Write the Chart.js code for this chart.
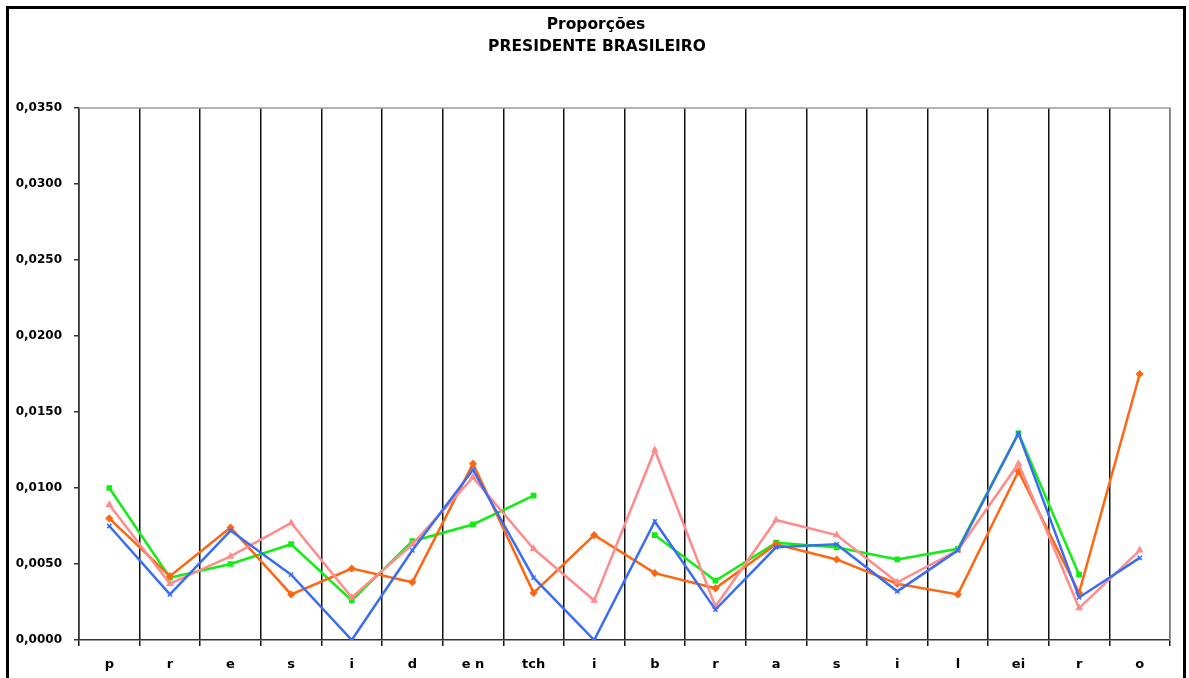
<!DOCTYPE html>
<html>
<head>
<meta charset="utf-8">
<script src="https://cdn.jsdelivr.net/npm/chart.js@4.4.1/dist/chart.umd.min.js"></script>
<style>
html,body{margin:0;padding:0;background:#fff;overflow:hidden;}
canvas{display:block;}
</style>
</head>
<body>
<canvas id="c" width="1189" height="678"></canvas>
<script>
const titleLines = ['Proporções', 'PRESIDENTE BRASILEIRO'];
const categories = ['p','r','e','s','i','d','e n','tch','i','b','r','a','s','i','l','ei','r','o'];
const yTicks = [0, 0.005, 0.01, 0.015, 0.02, 0.025, 0.03, 0.035];
const seriesGreen  = [0.0100,0.0041,0.0050,0.0063,0.0026,0.0065,0.0076,0.0095,null,0.0069,0.0039,0.0064,0.0061,0.0053,0.0060,0.0136,0.0043,null];
const seriesOrange = [0.0080,0.0042,0.0074,0.0030,0.0047,0.0038,0.0116,0.0031,0.0069,0.0044,0.0034,0.0063,0.0053,0.0037,0.0030,0.0111,0.0031,0.0175];
const seriesPink   = [0.0089,0.0037,0.0055,0.0077,0.0028,0.0063,0.0107,0.0060,0.0026,0.0125,0.0022,0.0079,0.0069,0.0038,0.0059,0.0116,0.0021,0.0059];
const seriesBlue   = [0.0075,0.0030,0.0072,0.0043,0.0000,0.0059,0.0112,0.0041,0.0000,0.0078,0.0020,0.0061,0.0063,0.0032,0.0059,0.0136,0.0028,0.0054];

const FONT = "'DejaVu Sans', sans-serif";

const framePlugin = {
  id: 'frame',
  beforeDraw(chart) {
    const ctx = chart.ctx;
    ctx.save();
    ctx.fillStyle = '#fff';
    ctx.fillRect(0, 0, chart.width, chart.height);
    ctx.restore();
  },
  beforeDatasetsDraw(chart) {
    const ctx = chart.ctx, a = chart.chartArea;
    ctx.save();
    ctx.strokeStyle = '#9a9a9a';
    ctx.lineWidth = 1.5;
    ctx.beginPath();
    ctx.moveTo(a.left, a.top);
    ctx.lineTo(a.right, a.top);
    ctx.lineTo(a.right, a.bottom);
    ctx.stroke();
    ctx.restore();
  },
  afterDraw(chart) {
    const ctx = chart.ctx;
    ctx.save();
    ctx.fillStyle = '#000';
    ctx.fillRect(6, 6, 1180, 3);
    ctx.fillRect(6, 6, 3, 700);
    ctx.fillRect(1183, 6, 3, 700);
    ctx.font = "bold 15.5px " + FONT;
    ctx.textAlign = 'center';
    ctx.textBaseline = 'alphabetic';
    ctx.fillStyle = '#000';
    ctx.fillText(titleLines[0], 596, 29);
    ctx.fillText(titleLines[1], 597, 51);
    ctx.restore();
  }
};

function ds(label, data, color, style, order) {
  return {
    label, data,
    borderColor: color,
    backgroundColor: color,
    borderWidth: 2.5,
    pointStyle: style,
    pointRadius: 3,
    pointBorderWidth: 1.5,
    pointHoverRadius: 3,
    tension: 0,
    spanGaps: false,
    order
  };
}

new Chart(document.getElementById('c'), {
  type: 'line',
  data: {
    labels: categories,
    datasets: [
      ds('A', seriesGreen, '#11ee11', 'rect', 4),
      ds('B', seriesOrange, '#ff6611', 'rectRot', 3),
      ds('C', seriesPink, '#ff8c8c', 'triangle', 2),
      ds('D', seriesBlue, '#3a6df5', 'crossRot', 1)
    ]
  },
  options: {
    responsive: false,
    devicePixelRatio: 1,
    animation: false,
    layout: { padding: { top: 108, right: 19, left: 0, bottom: 0 } },
    plugins: {
      legend: { display: false },
      title: { display: false },
      tooltip: { enabled: false }
    },
    scales: {
      x: {
        type: 'category',
        offset: true,
        afterFit(s) { s.height = 38; },
        grid: {
          offset: true,
          display: true,
          drawOnChartArea: true,
          drawTicks: true,
          tickLength: 6,
          lineWidth: 1.5,
          color: (c) => (c.index === categories.length ? '#9a9a9a' : '#111'),
          tickColor: '#111'
        },
        border: { display: true, color: '#333', width: 1.5 },
        ticks: {
          color: '#000',
          font: { family: FONT, weight: 'bold', size: 13 },
          padding: 11,
          maxRotation: 0,
          autoSkip: false
        }
      },
      y: {
        min: 0,
        max: 0.035,
        afterFit(s) { s.width = 79; },
        afterBuildTicks(s) { s.ticks = yTicks.map(v => ({ value: v })); },
        grid: {
          display: true,
          drawOnChartArea: false,
          drawTicks: true,
          tickLength: 5,
          color: '#333',
          lineWidth: 1.5
        },
        border: { display: true, color: '#333', width: 1.5 },
        ticks: {
          color: '#000',
          font: { family: FONT, weight: 'bold', size: 12 },
          padding: 12,
          callback: (v) => Number(v).toFixed(4).replace('.', ',')
        }
      }
    }
  },
  plugins: [framePlugin]
});
</script>
</body>
</html>
